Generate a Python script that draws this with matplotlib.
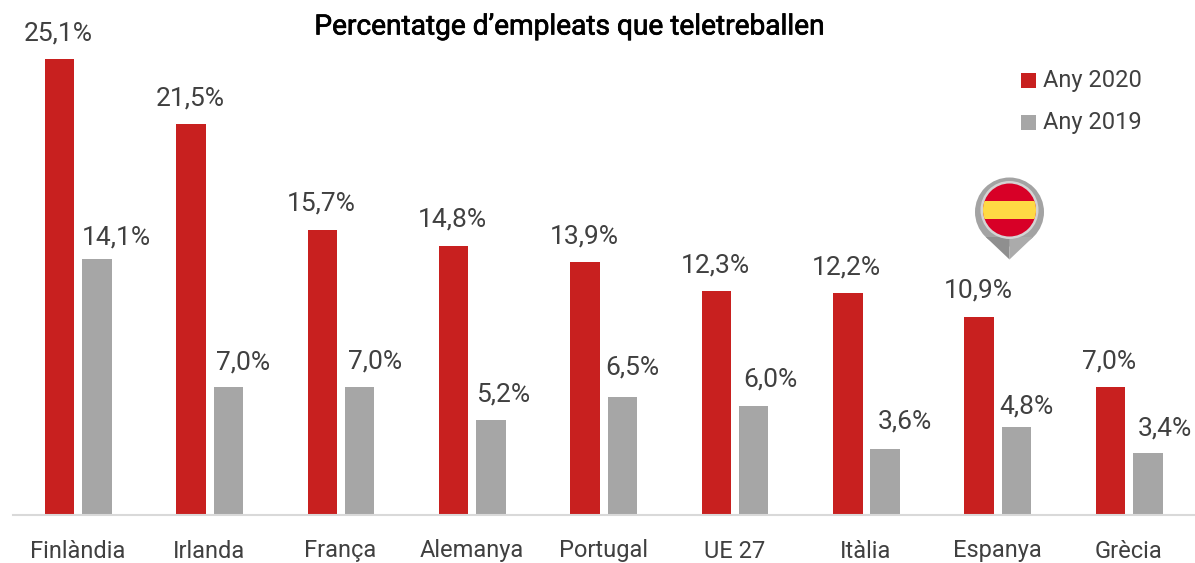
import matplotlib
matplotlib.use('Agg')
import matplotlib.pyplot as plt
import matplotlib.patheffects as pe
from matplotlib.patches import Circle, Polygon, Rectangle

categories = ['Finlàndia', 'Irlanda', 'França', 'Alemanya', 'Portugal', 'UE 27', 'Itàlia', 'Espanya', 'Grècia']
values_2020 = [25.1, 21.5, 15.7, 14.8, 13.9, 12.3, 12.2, 10.9, 7.0]
values_2019 = [14.1, 7.0, 7.0, 5.2, 6.5, 6.0, 3.6, 4.8, 3.4]
title = 'Percentatge d’empleats que teletreballen'

# hand placement of the 2019 labels relative to their bars (pixels)
label_dx_2019 = [19, 15, 15, 12, 10, 17, 20, 10, 17]
label_dy_2019 = [22, 26, 27, 27, 30, 27, 29, 22, 25]

plt.rcParams['font.family'] = ['Roboto', 'DejaVu Sans']
W, H = 1195, 563
fig = plt.figure(figsize=(W/100, H/100), dpi=100)
ax = fig.add_axes([0, 0, 1, 1])
ax.set_xlim(0, W); ax.set_ylim(H, 0); ax.axis('off')

base = 514.5
scale = (514.5 - 59) / 25.1
x0 = 59.7
step = 131.35
bw = 29.5
red = '#C8201F'; grey = '#A6A6A6'; txt = '#404040'
fs_val = 19
fs_cat = 17

def lab(x, y, s, fs):
    return ax.text(x, y, s, ha='center', va='center', fontsize=fs, color=txt)

for i, c in enumerate(categories):
    xr = x0 + i*step
    xg = xr + 37.3
    h1 = values_2020[i]*scale; h2 = values_2019[i]*scale
    ax.add_patch(Rectangle((xr-bw/2, base-h1), bw, h1, fc=red, ec='none'))
    ax.add_patch(Rectangle((xg-bw/2, base-h2), bw, h2, fc=grey, ec='none'))
    lab(xr-1, base-h1-26, f'{values_2020[i]:.1f}%'.replace('.', ','), fs_val)
    lab(xg+label_dx_2019[i], base-h2-label_dy_2019[i]+1, f'{values_2019[i]:.1f}%'.replace('.', ','), fs_val)
    lab(xr+18, 551, c, fs_cat)

ax.plot([13, 1195], [514.5, 514.5], color='#D9D9D9', lw=1.5)
ax.text(568, 27, title, ha='center', va='center', fontsize=20.2, color='black',
        path_effects=[pe.withStroke(linewidth=0.5, foreground='black')])

for y, col, s in [(80, red, 'Any 2020'), (122, grey, 'Any 2019')]:
    ax.add_patch(Rectangle((1021, y-7), 15, 15, fc=col, ec='none'))
    ax.text(1043, y+1, s, ha='left', va='center', fontsize=fs_cat, color=txt)

# Spain map pin
cx, cy = 1009.5, 210
tip = 259.5
ax.add_patch(Circle((cx, cy + 2), 34.5, fc='#A3A3A3', ec='none'))
ax.add_patch(Polygon([[cx-23.7, 237], [cx, tip], [cx, 237]], fc='#8F8F8F', ec='none'))
ax.add_patch(Polygon([[cx+23.7, 237], [cx, tip], [cx, 237]], fc='#ABABAB', ec='none'))
ax.add_patch(Circle((cx, cy), 29, fc='#D4D4D4', ec='none'))
clip = Circle((cx, cy), 26.5, fc='#D80027', ec='none')
ax.add_patch(clip)
ax.add_patch(Rectangle((cx-27, cy-9), 54, 18, fc='#FFDA44', ec='none', clip_path=clip))
fig.savefig('out.png', dpi=100)
